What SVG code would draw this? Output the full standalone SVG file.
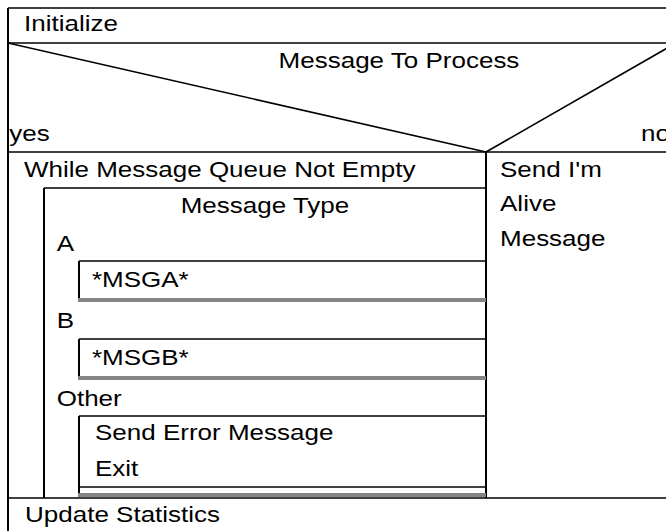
<svg xmlns="http://www.w3.org/2000/svg" width="666" height="531" viewBox="0 0 666 531">
<style>
  .h { stroke: #000; stroke-width: 1.6; fill: none; }
  .v { stroke: #000; stroke-width: 2; fill: none; }
  .bar { fill: #858585; }
  text { font-family: "Liberation Sans", Arial, sans-serif; font-size: 22px; fill: #000; }
  .c { text-anchor: middle; }
</style>
<rect x="0" y="0" width="666" height="531" fill="#fff"/>
<g id="frame">
  <line class="h" x1="8" y1="8" x2="680" y2="8"/>
  <line class="v" x1="8" y1="8" x2="8" y2="540"/>
</g>
<g id="initialize">
  <line class="h" x1="8" y1="43" x2="680" y2="43"/>
  <text transform="scale(1.1818 1)" x="20.3" y="31">Initialize</text>
</g>
<g id="decision">
  <line class="h" x1="8" y1="43" x2="486" y2="152"/>
  <line class="h" x1="486" y1="152" x2="676" y2="43"/>
  <line class="h" x1="8" y1="152" x2="680" y2="152"/>
  <line class="v" x1="486" y1="152" x2="486" y2="498"/>
  <text class="c" transform="scale(1.1818 1)" x="337.6" y="68">Message To Process</text>
  <text transform="scale(1.1818 1)" x="7.8" y="141">yes</text>
  <text transform="scale(1.1818 1)" x="542.4" y="141">no</text>
</g>
<g id="no-branch">
  <text transform="scale(1.1818 1)" x="423.1" y="177">Send I'm</text>
  <text transform="scale(1.1818 1)" x="423.1" y="211">Alive</text>
  <text transform="scale(1.1818 1)" x="423.1" y="246">Message</text>
</g>
<g id="while-loop">
  <text transform="scale(1.1818 1)" x="20.3" y="177">While Message Queue Not Empty</text>
  <line class="v" x1="44" y1="188" x2="44" y2="498"/>
</g>
<g id="case">
  <line class="h" x1="44" y1="188" x2="486" y2="188"/>
  <text class="c" transform="scale(1.1818 1)" x="224.2" y="213">Message Type</text>
  <text transform="scale(1.1818 1)" x="48" y="251">A</text>
  <text transform="scale(1.1818 1)" x="48" y="328">B</text>
  <text transform="scale(1.1818 1)" x="48" y="406">Other</text>
</g>
<g id="case-a">
  <line class="h" x1="79" y1="261" x2="486" y2="261"/>
  <line class="v" x1="79" y1="261" x2="79" y2="300"/>
  <rect class="bar" x="78" y="298" width="408" height="4"/>
  <text transform="scale(1.1818 1)" x="77.8" y="287">*MSGA*</text>
</g>
<g id="case-b">
  <line class="h" x1="79" y1="339" x2="486" y2="339"/>
  <line class="v" x1="79" y1="339" x2="79" y2="378"/>
  <rect class="bar" x="78" y="376" width="408" height="4"/>
  <text transform="scale(1.1818 1)" x="77.8" y="365">*MSGB*</text>
</g>
<g id="case-other">
  <line class="h" x1="79" y1="416" x2="486" y2="416"/>
  <line class="v" x1="79" y1="416" x2="79" y2="497"/>
  <line class="h" x1="79" y1="487" x2="486" y2="487"/>
  <rect class="bar" x="78" y="493" width="408" height="4"/>
  <text transform="scale(1.1818 1)" x="80.4" y="440">Send Error Message</text>
  <text transform="scale(1.1818 1)" x="80.4" y="476">Exit</text>
</g>
<g id="update-statistics">
  <line class="h" x1="8" y1="498" x2="680" y2="498"/>
  <text transform="scale(1.1818 1)" x="21.2" y="522">Update Statistics</text>
</g>
</svg>
